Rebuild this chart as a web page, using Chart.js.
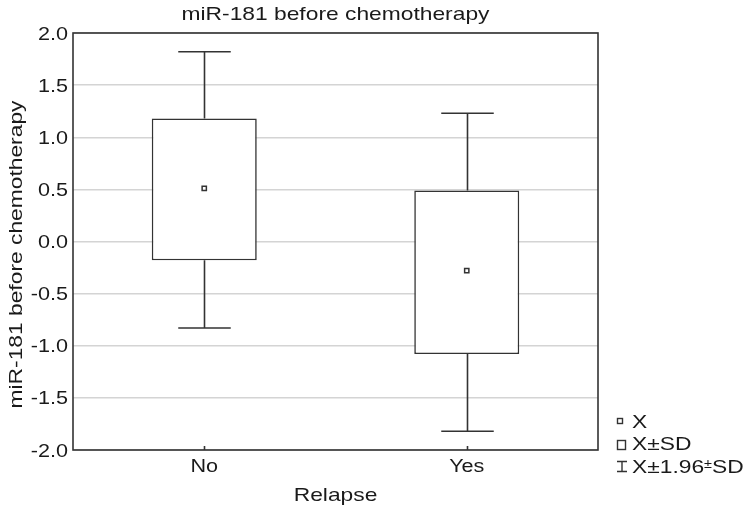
<!DOCTYPE html>
<html>
<head>
<meta charset="utf-8">
<script src="https://cdn.jsdelivr.net/npm/chart.js@4.4.1/dist/chart.umd.min.js"></script>
<style>
html,body{margin:0;padding:0;background:#fff;}
#wrap{width:749px;height:511px;}
</style>
</head>
<body>
<div id="wrap"><canvas id="c" width="749" height="511"></canvas></div>
<script>
const categories = ['No', 'Yes'];
const means = [0.51, -0.28];
const sdLow = [-0.18, -1.08];
const sdHigh = [1.18, 0.49];
const ciLow = [-0.83, -1.82];
const ciHigh = [1.82, 1.23];
const yTicks = [2.0, 1.5, 1.0, 0.5, 0.0, -0.5, -1.0, -1.5, -2.0];

const INK = '#333333';
const TXT = '#1a1a1a';
const FONT = '"Liberation Sans", Arial, sans-serif';
const SX = 1.2; // horizontal text stretch seen in the reference

function stretchText(ctx, text, x, y, align, size, rot) {
  ctx.save();
  ctx.translate(x, y);
  if (rot) ctx.rotate(rot);
  ctx.scale(SX, 1);
  ctx.font = size + 'px ' + FONT;
  ctx.textAlign = align;
  ctx.fillText(text, 0, 0);
  ctx.restore();
}

const extras = {
  id: 'extras',
  beforeDatasetsDraw(chart) {
    const ctx = chart.ctx, x = chart.scales.x, y = chart.scales.y;
    const catW = (chart.chartArea.right - chart.chartArea.left) / categories.length;
    ctx.save();
    ctx.strokeStyle = INK;
    ctx.lineWidth = 1.6;
    categories.forEach((c, i) => {
      const cx = Math.round(x.getPixelForValue(i)) + 0.5;
      const half = catW * 0.1;
      ctx.beginPath();
      ctx.moveTo(cx, y.getPixelForValue(ciHigh[i]));
      ctx.lineTo(cx, y.getPixelForValue(sdHigh[i]));
      ctx.moveTo(cx, y.getPixelForValue(sdLow[i]));
      ctx.lineTo(cx, y.getPixelForValue(ciLow[i]));
      ctx.moveTo(cx - half, y.getPixelForValue(ciHigh[i]));
      ctx.lineTo(cx + half, y.getPixelForValue(ciHigh[i]));
      ctx.moveTo(cx - half, y.getPixelForValue(ciLow[i]));
      ctx.lineTo(cx + half, y.getPixelForValue(ciLow[i]));
      ctx.stroke();
    });
    ctx.restore();
  },
  afterDraw(chart) {
    const ctx = chart.ctx, a = chart.chartArea, x = chart.scales.x, y = chart.scales.y;
    ctx.save();
    // frame
    ctx.strokeStyle = INK;
    ctx.lineWidth = 1.6;
    ctx.strokeRect(a.left, a.top, a.right - a.left, a.bottom - a.top);
    // small inner ticks on x axis
    ctx.beginPath();
    categories.forEach((c, i) => {
      const cx = Math.round(x.getPixelForValue(i)) + 0.5;
      ctx.moveTo(cx, a.bottom);
      ctx.lineTo(cx, a.bottom - 4);
    });
    ctx.stroke();
    ctx.fillStyle = TXT;
    ctx.textBaseline = 'alphabetic';
    // y tick labels
    yTicks.forEach(v => {
      stretchText(ctx, v.toFixed(1), a.left - 5, y.getPixelForValue(v) + 6.5, 'right', 18);
    });
    // x tick labels
    categories.forEach((c, i) => {
      stretchText(ctx, c, x.getPixelForValue(i), 472, 'center', 18);
    });
    // titles
    stretchText(ctx, 'miR-181 before chemotherapy', (a.left + a.right) / 2, 20, 'center', 19);
    stretchText(ctx, 'Relapse', (a.left + a.right) / 2, 501, 'center', 19);
    stretchText(ctx, 'miR-181 before chemotherapy', 22, (a.top + a.bottom) / 2 + 13, 'center', 19, -Math.PI / 2);
    // legend
    ctx.lineWidth = 1.4;
    ctx.strokeStyle = INK;
    ctx.strokeRect(617.5, 418.5, 5, 5);
    ctx.strokeRect(617.5, 440.5, 8, 9);
    ctx.beginPath();
    ctx.moveTo(617, 461.5); ctx.lineTo(627, 461.5);
    ctx.moveTo(622, 461.5); ctx.lineTo(622, 471.5);
    ctx.moveTo(617, 471.5); ctx.lineTo(627, 471.5);
    ctx.stroke();
    stretchText(ctx, 'X', 632, 428, 'left', 19);
    stretchText(ctx, 'X±SD', 632, 450, 'left', 19);
    ctx.save();
    ctx.translate(632, 473);
    ctx.scale(SX, 1);
    ctx.textAlign = 'left';
    let tx = 0;
    const p1 = 'X±1.96';
    ctx.font = '19px ' + FONT;
    ctx.fillText(p1, tx, 0);
    tx += ctx.measureText(p1).width;
    ctx.font = '12px ' + FONT;
    ctx.fillText('±', tx, -5);
    tx += ctx.measureText('±').width;
    ctx.font = '19px ' + FONT;
    ctx.fillText('SD', tx, 0);
    ctx.restore();
    ctx.restore();
  }
};

new Chart(document.getElementById('c'), {
  data: {
    labels: categories,
    datasets: [
      {
        type: 'bar',
        order: 2,
        data: categories.map((c, i) => [sdLow[i], sdHigh[i]]),
        backgroundColor: '#ffffff',
        borderColor: INK,
        borderWidth: 1.6,
        borderSkipped: false,
        barPercentage: 0.4,
        categoryPercentage: 1.0
      },
      {
        type: 'line',
        order: 1,
        data: means,
        showLine: false,
        pointStyle: 'rect',
        pointRadius: 3,
        pointBackgroundColor: '#ffffff',
        pointBorderColor: INK,
        pointBorderWidth: 1.5
      }
    ]
  },
  options: {
    responsive: false,
    animation: false,
    devicePixelRatio: 1,
    layout: { padding: { left: 0, top: 33, right: 151, bottom: 0 } },
    plugins: { legend: { display: false }, tooltip: { enabled: false }, title: { display: false } },
    scales: {
      x: {
        type: 'category',
        offset: true,
        grid: { display: false, drawTicks: false },
        border: { display: false },
        ticks: { display: false },
        afterFit(s) { s.height = 61; }
      },
      y: {
        min: -2, max: 2,
        grid: { color: '#d4d4d4', lineWidth: 1.5, drawTicks: false },
        border: { display: false },
        afterBuildTicks(s) { s.ticks = yTicks.map(v => ({ value: v })); },
        ticks: { display: false },
        afterFit(s) { s.width = 73; }
      }
    }
  },
  plugins: [extras]
});
</script>
</body>
</html>
